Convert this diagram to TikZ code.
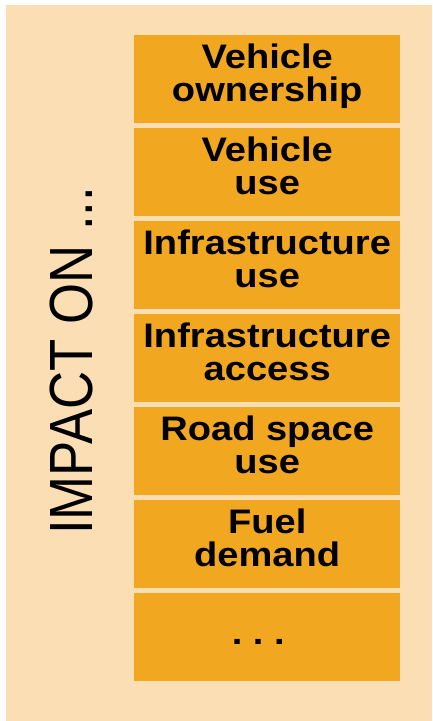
\documentclass[tikz,border=0pt]{standalone}
\usepackage{fontspec}
\setmainfont{Liberation Sans}
\newfontfamily\boxfont[FakeStretch=1.12]{Liberation Sans Bold}
\newfontfamily\sidefont[FakeStretch=0.865]{Liberation Sans}
\definecolor{peach}{RGB}{251,222,180}
\definecolor{amber}{RGB}{241,168,32}
\begin{document}
\begin{tikzpicture}[x=1pt,y=1pt,
    box/.style={fill=amber, minimum width=266pt, minimum height=87.5pt, inner sep=0pt, anchor=north west},
    lbl/.style={font=\boxfont\fontsize{34}{33}\selectfont, align=center, anchor=base, inner sep=0pt}]
  \useasboundingbox (0,0) rectangle (432,-721);
  \fill[peach] (6,-5) rectangle (432,-721);
  % stacked boxes
  \foreach \i/\t in {1/{Vehicle\\ownership}, 2/{Vehicle\\use}, 3/{Infrastructure\\use},
      4/{Infrastructure\\access}, 5/{Road space\\use}, 6/{Fuel\\demand}}{
    \node[box] (b\i) at (134,{-35-93*(\i-1)}) {};
    \node[lbl] (l\i) at ([yshift=-66pt]b\i.north) {\t};
  }
  \node[box] (b7) at (134,-593) {};
  \node[lbl] (l7) at ([xshift=-9pt,yshift=-51pt]b7.north) {.\ .\ .};
  \node[font=\sidefont\fontsize{61}{61}\selectfont, rotate=90, anchor=base west, inner sep=0pt] (side) at (92,-535) {IMPACT ON ...};
\end{tikzpicture}
\end{document}
